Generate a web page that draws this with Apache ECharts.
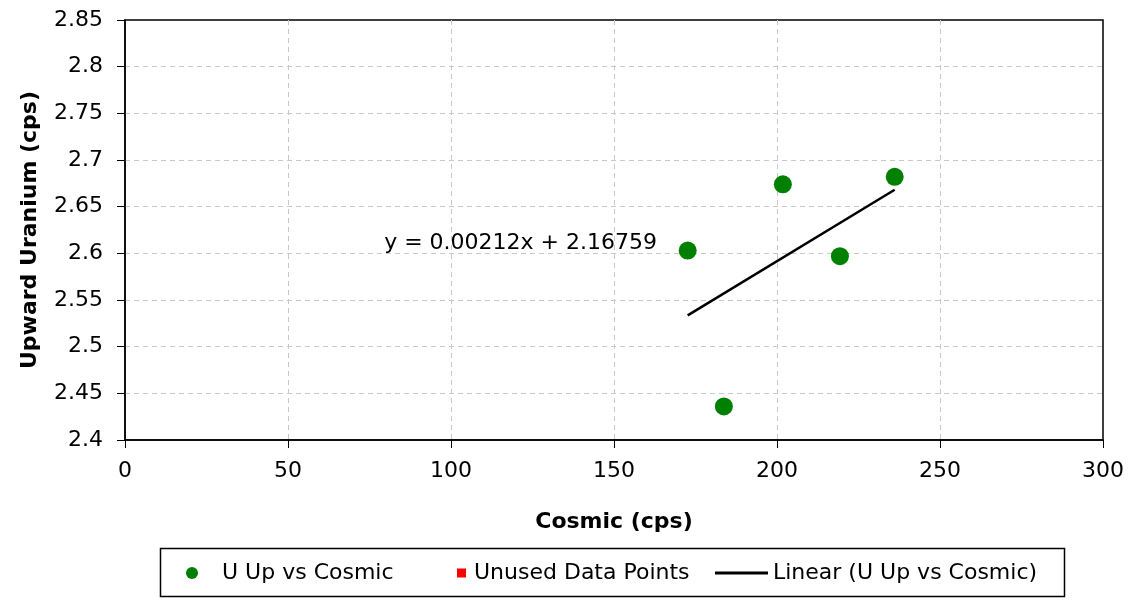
<!DOCTYPE html>
<html><head><meta charset="utf-8">
<script src="https://cdn.jsdelivr.net/npm/echarts@6/dist/echarts.min.js"></script>
<style>html,body{margin:0;padding:0;background:#fff}#c{width:1131px;height:608px}</style>
</head><body><div id="c"></div>
<script>
// Data
const cosmic = [172.6, 183.7, 201.8, 219.3, 236.1];
const uUp = [2.603, 2.436, 2.674, 2.597, 2.682];
const unused = [];
const slope = 0.00212, intercept = 2.16759;
const trendX = [172.6, 236.1];
const xTicks = [0, 300, 50];
const yTicks = [2.4, 2.85, 0.05];
const eqLabel = 'y = 0.00212x + 2.16759';
const eqPos = [79.5, 2.611];

const FONT = 'DejaVu Sans';
const FS = 22;
const chart = echarts.init(document.getElementById('c'));
const pts = cosmic.map((x, i) => [x, uUp[i]]);
const trend = trendX.map(x => [x, slope * x + intercept]);
const gridLine = {show: true, showMinLine: false, showMaxLine: false, lineStyle: {color: '#c8c8c8', type: [5, 4], width: 1}};
chart.setOption({
  animation: false,
  textStyle: {fontFamily: FONT},
  grid: {left: 125, right: 28, top: 20, bottom: 168, show: true, borderColor: '#000', borderWidth: 1.5, backgroundColor: '#fff'},
  xAxis: {
    type: 'value', min: xTicks[0], max: xTicks[1], interval: xTicks[2],
    name: 'Cosmic (cps)', nameLocation: 'middle', nameGap: 71,
    nameTextStyle: {fontFamily: FONT, fontWeight: 'bold', fontSize: FS, color: '#000'},
    axisLine: {lineStyle: {color: '#000', width: 1.5}},
    axisTick: {show: true, inside: false, length: 8, lineStyle: {color: '#000'}},
    axisLabel: {fontFamily: FONT, fontSize: FS, color: '#000', margin: 20},
    splitLine: gridLine
  },
  yAxis: {
    type: 'value', min: yTicks[0], max: yTicks[1], interval: yTicks[2],
    name: 'Upward Uranium (cps)', nameLocation: 'middle', nameGap: 84,
    nameTextStyle: {fontFamily: FONT, fontWeight: 'bold', fontSize: FS, color: '#000'},
    axisLine: {lineStyle: {color: '#000', width: 1.5}},
    axisTick: {show: true, inside: false, length: 8, lineStyle: {color: '#000'}},
    axisLabel: {fontFamily: FONT, fontSize: FS, color: '#000', margin: 22},
    splitLine: gridLine
  },
  legend: [
    {data: [{name: 'U Up vs Cosmic', icon: 'circle'}], left: 186, top: 562, padding: 0,
     itemWidth: 12, itemHeight: 12, textStyle: {fontFamily: FONT, fontSize: FS, color: '#000', padding: [0, 0, 0, 19]}},
    {data: [{name: 'Unused Data Points', icon: 'rect'}], left: 457, top: 562, padding: 0,
     itemWidth: 9, itemHeight: 9, textStyle: {fontFamily: FONT, fontSize: FS, color: '#000', padding: [0, 0, 0, 3]}},
    {data: [{name: 'Linear (U Up vs Cosmic)', icon: 'rect'}], left: 715, top: 562, padding: 0,
     itemWidth: 53, itemHeight: 3, textStyle: {fontFamily: FONT, fontSize: FS, color: '#000'}}
  ],
  graphic: [{type: 'rect', left: 158, top: 546, shape: {width: 904, height: 48}, style: {fill: 'none', stroke: '#000', lineWidth: 1.5}, z: 100}],
  series: [
    {name: 'U Up vs Cosmic', type: 'scatter', data: pts, symbol: 'circle', symbolSize: 18,
     itemStyle: {color: '#008000', opacity: 1}, z: 3},
    {name: 'Unused Data Points', type: 'scatter', data: unused, symbol: 'rect', symbolSize: 9,
     itemStyle: {color: '#ff0000', opacity: 1}},
    {name: 'Linear (U Up vs Cosmic)', type: 'line', data: trend, symbol: 'none', showSymbol: false,
     lineStyle: {color: '#000', width: 2.5}, itemStyle: {color: '#000'}, z: 2,
     markPoint: {symbol: 'circle', symbolSize: 0, silent: true,
       data: [{coord: eqPos, value: eqLabel}],
       label: {show: true, position: 'right', distance: 0, formatter: eqLabel, fontFamily: FONT, fontSize: FS, color: '#000'}}}
  ]
});
</script></body></html>
